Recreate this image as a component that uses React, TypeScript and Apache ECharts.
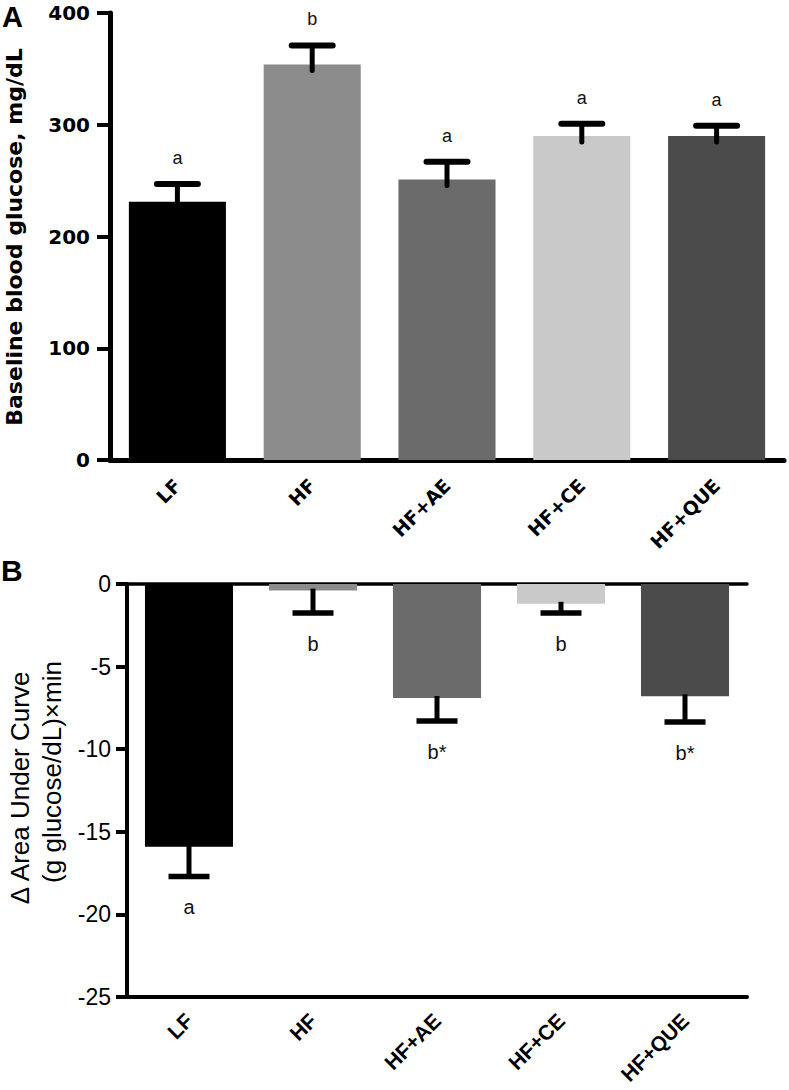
import React, { useEffect, useRef } from "react";
import * as echarts from "echarts";

const categories = ["LF", "HF", "HF+AE", "HF+CE", "HF+QUE"];
const barColors = ["#000000", "#8c8c8c", "#6b6b6b", "#c9c9c9", "#4b4b4b"];

// Panel A: baseline blood glucose (mg/dL)
const baselineMean = [231, 354, 251, 290, 290];
const baselineSEM = [16, 17, 16, 11, 9];
const baselineLetters = ["a", "b", "a", "a", "a"];
const baselineTicks = [0, 100, 200, 300, 400];

// Panel B: delta area under curve
const aucMean = [-15.9, -0.4, -6.9, -1.2, -6.8];
const aucSEM = [1.8, 1.35, 1.4, 0.55, 1.55];
const aucLetters = ["a", "b", "b*", "b", "b*"];
const aucTicks = [-25, -20, -15, -10, -5, 0];

const BOLD_A = "DejaVu Sans";
const ARIAL = "Liberation Sans";

export default function App() {
  const ref = useRef<HTMLDivElement>(null);

  useEffect(() => {
    document.body.style.margin = "0";
    if (!ref.current) return;
    const chart = echarts.init(ref.current, null, { renderer: "svg" });

    const errA = categories.map((_, i) => [i, baselineMean[i], baselineMean[i] + baselineSEM[i]]);
    const errB = categories.map((_, i) => [i, aucMean[i], aucMean[i] - aucSEM[i]]);

    const option: any = {
      animation: false,
      backgroundColor: "#ffffff",
      grid: [
        { left: 110, top: 13, width: 674, height: 447 },
        { left: 127, top: 584, width: 620, height: 413 },
      ],
      xAxis: [
        {
          gridIndex: 0,
          type: "category",
          data: categories,
          axisLine: { lineStyle: { color: "#000", width: 5 } },
          axisTick: { alignWithLabel: true, length: 13, lineStyle: { color: "#000", width: 4 } },
          axisLabel: {
            rotate: 45,
            margin: 22,
            color: "#000",
            fontFamily: BOLD_A,
            fontWeight: "bold",
            fontSize: 19,
          },
          splitLine: { show: false },
        },
        {
          gridIndex: 1,
          type: "category",
          data: categories,
          position: "bottom",
          axisLine: { onZero: false, lineStyle: { color: "#000", width: 4 } },
          axisTick: { alignWithLabel: true, length: 11, lineStyle: { color: "#000", width: 4 } },
          axisLabel: {
            rotate: 45,
            margin: 20,
            color: "#000",
            fontFamily: ARIAL,
            fontWeight: "bold",
            fontSize: 21,
          },
          splitLine: { show: false },
        },
        {
          gridIndex: 1,
          type: "category",
          data: categories,
          position: "top",
          axisLine: { onZero: false, lineStyle: { color: "#000", width: 3.5 } },
          axisTick: { show: false },
          axisLabel: { show: false },
          splitLine: { show: false },
        },
      ],
      yAxis: [
        {
          gridIndex: 0,
          type: "value",
          min: baselineTicks[0],
          max: baselineTicks[baselineTicks.length - 1],
          interval: 100,
          axisLine: { show: true, lineStyle: { color: "#000", width: 5 } },
          axisTick: { show: true, length: 13, lineStyle: { color: "#000", width: 4 } },
          axisLabel: {
            margin: 20,
            color: "#000",
            fontFamily: BOLD_A,
            fontWeight: "bold",
            fontSize: 20,
          },
          splitLine: { show: false },
        },
        {
          gridIndex: 1,
          type: "value",
          min: aucTicks[0],
          max: aucTicks[aucTicks.length - 1],
          interval: 5,
          axisLine: { show: true, onZero: false, lineStyle: { color: "#000", width: 4 } },
          axisTick: { show: true, length: 11, lineStyle: { color: "#000", width: 4 } },
          axisLabel: {
            margin: 16,
            color: "#000",
            fontFamily: ARIAL,
            fontSize: 23,
          },
          splitLine: { show: false },
        },
      ],
      series: [
        {
          type: "bar",
          xAxisIndex: 0,
          yAxisIndex: 0,
          barWidth: "72%",
          data: baselineMean.map((v, i) => ({ value: v, itemStyle: { color: barColors[i] } })),
        },
        {
          type: "custom",
          xAxisIndex: 0,
          yAxisIndex: 0,
          z: 5,
          data: errA,
          renderItem: (params: any, api: any) => {
            const idx = api.value(0);
            const base = api.coord([idx, api.value(1)]);
            const top = api.coord([idx, api.value(2)]);
            return {
              type: "group",
              children: [
                {
                  type: "line",
                  shape: { x1: top[0], y1: top[1], x2: base[0], y2: base[1] + 6 },
                  style: { stroke: "#000", lineWidth: 5, lineCap: "round" },
                },
                {
                  type: "line",
                  shape: { x1: top[0] - 20.5, y1: top[1], x2: top[0] + 20.5, y2: top[1] },
                  style: { stroke: "#000", lineWidth: 6, lineCap: "round" },
                },
                {
                  type: "text",
                  style: {
                    text: baselineLetters[params.dataIndex],
                    x: top[0],
                    y: top[1] - 26,
                    align: "center",
                    verticalAlign: "middle",
                    fontFamily: ARIAL,
                    fontSize: 18,
                    fill: "#111",
                  },
                },
              ],
            };
          },
        },
        {
          type: "bar",
          xAxisIndex: 1,
          yAxisIndex: 1,
          barWidth: "71%",
          data: aucMean.map((v, i) => ({ value: v, itemStyle: { color: barColors[i] } })),
        },
        {
          type: "custom",
          xAxisIndex: 1,
          yAxisIndex: 1,
          z: 5,
          data: errB,
          renderItem: (params: any, api: any) => {
            const idx = api.value(0);
            const base = api.coord([idx, api.value(1)]);
            const bot = api.coord([idx, api.value(2)]);
            return {
              type: "group",
              children: [
                {
                  type: "line",
                  shape: { x1: bot[0], y1: bot[1], x2: base[0], y2: base[1] - 2 },
                  style: { stroke: "#000", lineWidth: 5 },
                },
                {
                  type: "line",
                  shape: { x1: bot[0] - 20.5, y1: bot[1], x2: bot[0] + 20.5, y2: bot[1] },
                  style: { stroke: "#000", lineWidth: 5.5 },
                },
                {
                  type: "text",
                  style: {
                    text: aucLetters[params.dataIndex],
                    x: bot[0],
                    y: bot[1] + 31,
                    align: "center",
                    verticalAlign: "middle",
                    fontFamily: ARIAL,
                    fontSize: 20,
                    fill: "#111",
                  },
                },
              ],
            };
          },
        },
      ],
      graphic: [
        {
          type: "text",
          left: 2,
          top: 2,
          style: { text: "A", fontFamily: ARIAL, fontWeight: "bold", fontSize: 29, fill: "#000" },
        },
        {
          type: "text",
          left: 1,
          top: 555,
          style: { text: "B", fontFamily: ARIAL, fontWeight: "bold", fontSize: 30, fill: "#000" },
        },
        {
          type: "text",
          x: 14,
          y: 237,
          rotation: Math.PI / 2,
          style: {
            text: "Baseline blood glucose, mg/dL",
            fontFamily: BOLD_A,
            fontWeight: "bold",
            fontSize: 22,
            fill: "#000",
            align: "center",
            verticalAlign: "middle",
          },
        },
        {
          type: "text",
          x: 20,
          y: 788,
          rotation: Math.PI / 2,
          style: {
            text: "Δ Area Under Curve",
            fontFamily: ARIAL,
            fontSize: 26,
            fill: "#000",
            align: "center",
            verticalAlign: "middle",
          },
        },
        {
          type: "text",
          x: 52,
          y: 772,
          rotation: Math.PI / 2,
          style: {
            text: "(g glucose/dL)×min",
            fontFamily: ARIAL,
            fontSize: 26,
            fill: "#000",
            align: "center",
            verticalAlign: "middle",
          },
        },
      ],
    };

    chart.setOption(option);
    return () => chart.dispose();
  }, []);

  return <div ref={ref} style={{ width: 789, height: 1090 }} />;
}
